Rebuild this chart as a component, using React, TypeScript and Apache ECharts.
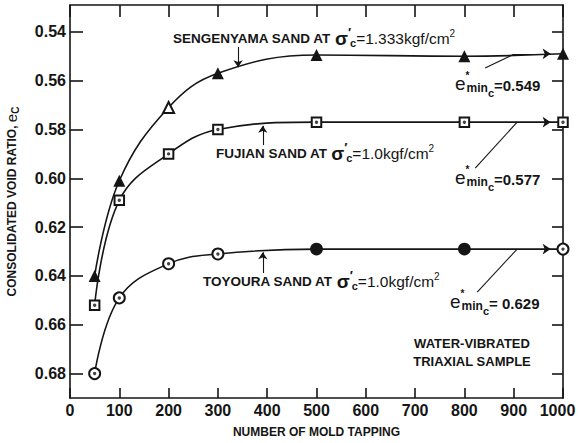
import React, { useEffect, useRef } from 'react';
import * as echarts from 'echarts';

// ---- data ----
const taps = [50, 100, 200, 300, 500, 800, 1000];
const sengenyama = [0.640, 0.601, 0.571, 0.557, 0.5495, 0.550, 0.549];
const fujian = [0.652, 0.609, 0.590, 0.580, 0.577, 0.577, 0.577];
const toyoura = [0.680, 0.649, 0.635, 0.631, 0.629, 0.629, 0.629];
const yTicks = [0.54, 0.56, 0.58, 0.60, 0.62, 0.64, 0.66, 0.68];
const sandNames = ['SENGENYAMA SAND AT ', 'FUJIAN SAND AT ', 'TOYOURA SAND AT '];
const sandStress = ['=1.333kgf/cm', '=1.0kgf/cm', '=1.0kgf/cm'];
const eminLabels = ['=0.549', '=0.577', '= 0.629'];
const noteLines = ['WATER-VIBRATED', 'TRIAXIAL SAMPLE'];

const FONT = '"Liberation Sans", Arial, Helvetica, sans-serif';
const INK = '#151515';

function buildOption() {
  const lineStyle = { color: INK, width: 1.6 };
  const mkLine = (pointer: number[][], leader: number[][], endArrow: number[][]) => ({
    silent: true,
    animation: false,
    symbol: ['none', 'none'],
    label: { show: false },
    emphasis: { disabled: true },
    lineStyle: { color: INK, width: 1.1, type: 'solid' },
    data: [
      [{ coord: pointer[0] }, { coord: pointer[1], symbol: 'arrow', symbolSize: 7 }],
      [{ coord: leader[0] }, { coord: leader[1] }],
      [{ coord: endArrow[0] }, { coord: endArrow[1], symbol: 'arrow', symbolSize: 8 }],
    ],
  });

  const sengData = taps.map((x, i) => ({
    value: [x, sengenyama[i]],
    symbol: i === 2 ? 'emptyTriangle' : 'triangle',
    symbolSize: i === 2 ? 11 : 12,
  }));
  const fujData = taps.map((x, i) => ({ value: [x, fujian[i]], symbol: 'emptyRect' }));
  const toyData = taps.map((x, i) => ({
    value: [x, toyoura[i]],
    symbol: i === 4 || i === 5 ? 'circle' : 'emptyCircle',
  }));
  const dots = [
    ...taps.map((x, i) => [x, fujian[i]]),
    ...taps.map((x, i) => [x, toyoura[i], i]).filter((d) => d[2] !== 4 && d[2] !== 5).map((d) => [d[0], d[1]]),
  ];

  const lastS = sengenyama[sengenyama.length - 1];
  const lastF = fujian[fujian.length - 1];
  const lastT = toyoura[toyoura.length - 1];

  const axisLine = { show: true, onZero: false, lineStyle: { color: INK, width: 1.6 } };
  const tickStyle = { color: INK, width: 1.6 };
  const labelStyle = { color: INK, fontSize: 16, fontWeight: 'bold', fontFamily: FONT };

  const sandRich = {
    s: { fontSize: 19, fontWeight: 'bold', fontFamily: FONT, fill: INK },
    p: { fontSize: 13, fontWeight: 'bold', fontFamily: FONT, fill: INK, padding: [0, 0, 12, 0], width: 2 },
    c: { fontSize: 11, fontWeight: 'bold', fontFamily: FONT, fill: INK, padding: [10, 0, 0, 0] },
    q: { fontSize: 15.5, fontWeight: 'normal', fontFamily: FONT, fill: INK },
    u: { fontSize: 10, fontWeight: 'normal', fontFamily: FONT, fill: INK, padding: [0, 0, 9, 0] },
  };
  const sandPos = [[173, 38], [216, 153], [203, 281]];
  const eminRich = {
    e: { fontSize: 19, fontWeight: 'normal', fontFamily: FONT, fill: INK },
    st: { fontSize: 10, fontWeight: 'bold', fontFamily: FONT, fill: INK, padding: [0, 0, 16, 0], width: 1 },
    m: { fontSize: 12, fontWeight: 'bold', fontFamily: FONT, fill: INK, padding: [9, 0, 0, 0] },
    c: { fontSize: 11, fontWeight: 'bold', fontFamily: FONT, fill: INK, padding: [19, 0, 0, 0] },
    v: { fontSize: 15, fontWeight: 'bold', fontFamily: FONT, fill: INK, padding: [4, 0, 0, 0] },
  };
  const eminPos = [[455, 83], [455, 177], [450, 301]];

  const graphics: any[] = [];
  sandNames.forEach((n, i) => {
    graphics.push({
      type: 'text',
      x: sandPos[i][0],
      y: sandPos[i][1],
      silent: true,
      style: {
        text: `${n}{s|σ}{p|′}{c|c}{q|${sandStress[i]}}{u|2}`,
        rich: sandRich,
        fontSize: 13.5,
        fontWeight: 'bold',
        fontFamily: FONT,
        fill: INK,
        verticalAlign: 'middle',
        align: 'left',
      },
    });
  });
  eminLabels.forEach((t, i) => {
    graphics.push({
      type: 'text',
      x: eminPos[i][0],
      y: eminPos[i][1],
      silent: true,
      style: {
        text: `{e|e}{st|*}{m|min}{c|c}{v|${t}}`,
        rich: eminRich,
        fill: INK,
        verticalAlign: 'middle',
        align: 'left',
      },
    });
  });
  graphics.push({
    type: 'text',
    x: 472,
    y: 352,
    silent: true,
    style: {
      text: noteLines.join('\n'),
      fontSize: 13,
      fontWeight: 'bold',
      fontFamily: FONT,
      fill: INK,
      lineHeight: 18,
      align: 'center',
      verticalAlign: 'middle',
    },
  });

  return {
    animation: false,
    backgroundColor: '#ffffff',
    grid: { left: 70, right: 15, top: 5, bottom: 45, containLabel: false, outerBoundsMode: 'none' },
    xAxis: [
      {
        type: 'value', min: 0, max: 1000, interval: 100, position: 'bottom',
        axisLine, axisTick: { show: true, inside: true, length: 10, lineStyle: tickStyle },
        axisLabel: {
          ...labelStyle,
          margin: 4,
          formatter: (v: number) => (v === 1000 ? '{r|1000}' : String(v)),
          rich: { r: { ...labelStyle, padding: [0, 11, 0, 0] } },
        },
        splitLine: { show: false },
        name: 'NUMBER OF MOLD TAPPING', nameLocation: 'middle', nameGap: 28,
        nameTextStyle: { color: INK, fontSize: 12, fontWeight: 'bold', fontFamily: FONT },
      },
      {
        type: 'value', min: 0, max: 1000, interval: 100, position: 'top',
        axisLine, axisTick: { show: true, inside: true, length: 12, lineStyle: tickStyle },
        axisLabel: { show: false }, splitLine: { show: false },
      },
    ],
    yAxis: [
      {
        type: 'value', inverse: true, min: 0.529, max: 0.69, position: 'left',
        axisLine,
        axisTick: { show: true, inside: true, length: 13, lineStyle: tickStyle, customValues: yTicks },
        axisLabel: { ...labelStyle, margin: 4, customValues: yTicks, formatter: (v: number) => v.toFixed(2) },
        splitLine: { show: false },
        name: 'CONSOLIDATED VOID RATIO, {e|e}{c|C}', nameLocation: 'middle', nameGap: 50,
        nameTextStyle: {
          color: INK, fontSize: 12, fontWeight: 'bold', fontFamily: FONT,
          rich: {
            e: { fontSize: 15, fontWeight: 'normal', fontFamily: FONT, color: INK },
            c: { fontSize: 10, fontWeight: 'bold', fontFamily: FONT, color: INK, padding: [7, 0, 0, 0] },
          },
        },
      },
      {
        type: 'value', inverse: true, min: 0.529, max: 0.69, position: 'right',
        axisLine,
        axisTick: { show: true, inside: true, length: 11, lineStyle: tickStyle, customValues: yTicks },
        axisLabel: { show: false }, splitLine: { show: false },
      },
    ],
    series: [
      {
        type: 'line', name: 'Sengenyama', data: sengData, smooth: 0.4,
        symbolSize: 12, lineStyle, itemStyle: { color: INK, borderColor: INK, borderWidth: 0 },
        emphasis: { disabled: true }, z: 3,
        markLine: mkLine([[341, 0.5462], [341, 0.5545]], [[842, 0.5548], [897, 0.5495]], [[897, lastS], [975, lastS]]),
      },
      {
        type: 'line', name: 'Fujian', data: fujData, smooth: 0.4,
        symbolSize: 9.5, lineStyle, itemStyle: { color: INK, borderColor: INK, borderWidth: 1.7 },
        emphasis: { disabled: true }, z: 3,
        markLine: mkLine([[391, 0.5864], [391, 0.5785]], [[822, 0.5958], [907, lastF]], [[907, lastF], [975, lastF]]),
      },
      {
        type: 'line', name: 'Toyoura', data: toyData, smooth: 0.4,
        symbolSize: 11, lineStyle, itemStyle: { color: INK, borderColor: INK, borderWidth: 1.7 },
        emphasis: { disabled: true }, z: 3,
        markLine: mkLine([[391, 0.6388], [391, 0.6303]], [[826, 0.6466], [907, lastT]], [[907, lastT], [975, lastT]]),
      },
      {
        type: 'scatter', name: 'centers', data: dots, symbol: 'circle', symbolSize: 3.4,
        itemStyle: { color: INK }, silent: true, z: 4,
      },
    ],
    graphic: graphics,
  };
}

export default function App() {
  const ref = useRef<HTMLDivElement>(null);
  useEffect(() => {
    if (!ref.current) return;
    const chart = echarts.init(ref.current, null, { renderer: 'svg' });
    chart.setOption(buildOption() as any);
    return () => chart.dispose();
  }, []);
  return (
    <div
      ref={ref}
      style={{ position: 'fixed', left: 0, top: 0, width: 578, height: 443, background: '#fff' }}
    />
  );
}
